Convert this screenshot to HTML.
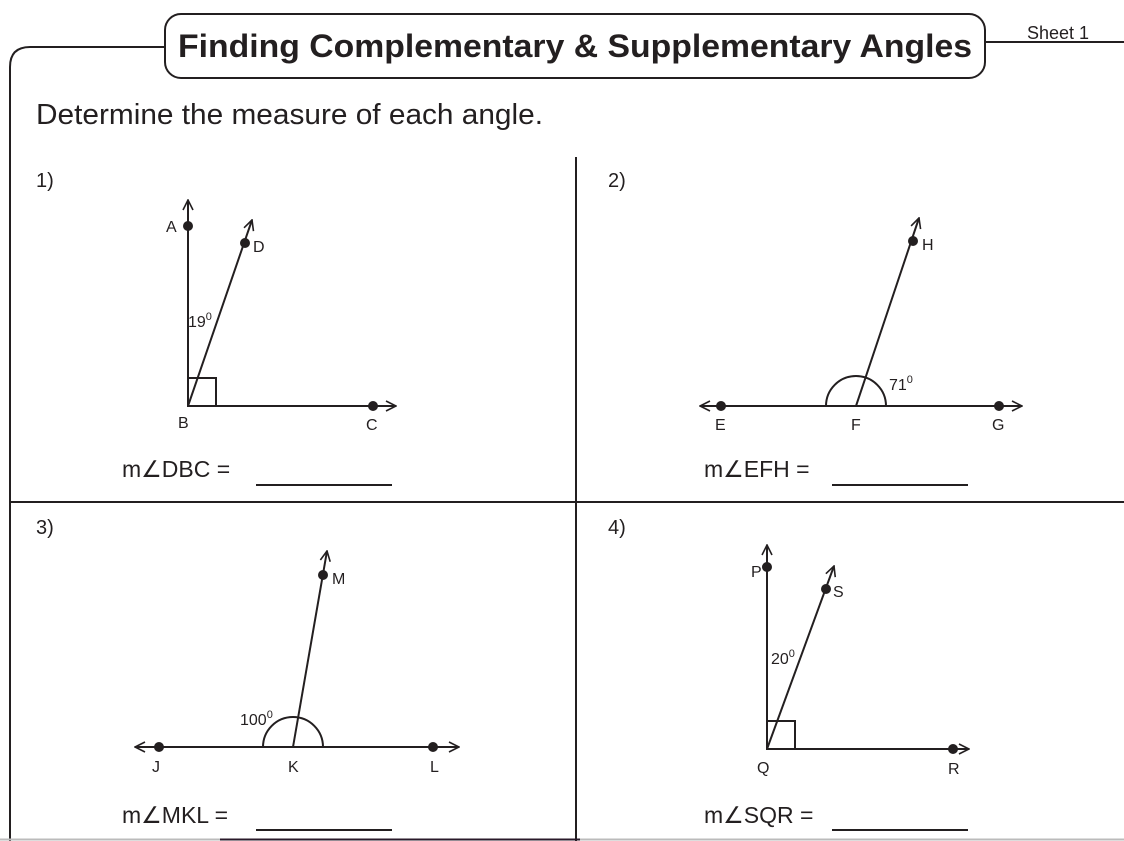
<!DOCTYPE html>
<html><head><meta charset="utf-8"><style>
html,body{margin:0;padding:0;background:#fff;}
svg{display:block;font-family:"Liberation Sans",sans-serif;}
</style></head><body>
<svg width="1124" height="841" viewBox="0 0 1124 841" xmlns="http://www.w3.org/2000/svg">
<defs>
<marker id="ar" viewBox="0 0 12 12" refX="11" refY="6" markerWidth="12" markerHeight="12" markerUnits="userSpaceOnUse" orient="auto"><path d="M1,1 L11,6 L1,11" fill="none" stroke="#231f20" stroke-width="1.6"/></marker>
</defs>
<g fill="none" stroke="#231f20" stroke-width="2">
<path d="M10,841 L10,67 Q10,47 30,47 L165,47"/>
<rect x="165" y="14" width="820" height="64" rx="16"/>
<path d="M985,42 L1124,42"/>
<path d="M576,157 L576,841"/>
<path d="M10,502 L1124,502"/>
</g>
<path d="M0,839.5 L1124,839.5" stroke="#bbb" stroke-width="2"/>
<path d="M220,839.5 L580,839.5" stroke="#2a1a2a" stroke-width="2"/>
<text x="178" y="57" textLength="794" lengthAdjust="spacingAndGlyphs" font-size="32" font-weight="bold" fill="#231f20">Finding Complementary &amp; Supplementary Angles</text>
<text x="1027" y="39" font-size="18" fill="#231f20">Sheet 1</text>
<text x="36" y="124" textLength="507" lengthAdjust="spacingAndGlyphs" font-size="29" fill="#231f20">Determine the measure of each angle.</text>
<g font-size="20" fill="#231f20">
<text x="36" y="187">1)</text><text x="608" y="187">2)</text>
<text x="36" y="534">3)</text><text x="608" y="534">4)</text>
</g>
<g stroke="#231f20" stroke-width="2" fill="none" marker-end="url(#ar)">
<path d="M188,406 L188,200"/><path d="M188,406 L252,220"/><path d="M188,406 L396,406"/>
<path d="M856,406 L700,406"/><path d="M856,406 L1022,406"/><path d="M856,406 L919,218"/>
<path d="M293,747 L135,747"/><path d="M293,747 L459,747"/><path d="M293,747 L327,551"/>
<path d="M767,749 L767,545"/><path d="M767,749 L834,566"/><path d="M767,749 L969,749"/>
</g>
<g stroke="#231f20" stroke-width="2" fill="none">
<rect x="188" y="378" width="28" height="28"/>
<rect x="767" y="721" width="28" height="28"/>
<path d="M826,406 A30,30 0 0 1 886,406"/>
<path d="M263,747 A30,30 0 0 1 323,747"/>
</g>
<g fill="#231f20">
<circle cx="188" cy="226" r="5"/><circle cx="245" cy="243" r="5"/><circle cx="373" cy="406" r="5"/>
<circle cx="721" cy="406" r="5"/><circle cx="999" cy="406" r="5"/><circle cx="913" cy="241" r="5"/>
<circle cx="159" cy="747" r="5"/><circle cx="433" cy="747" r="5"/><circle cx="323" cy="575" r="5"/>
<circle cx="767" cy="567" r="5"/><circle cx="826" cy="589" r="5"/><circle cx="953" cy="749" r="5"/>
</g>
<g font-size="16" fill="#231f20">
<text x="166" y="232">A</text><text x="253" y="252">D</text><text x="178" y="428">B</text><text x="366" y="430">C</text>
<text x="188" y="327">19<tspan dy="-7" font-size="11">0</tspan></text>
<text x="715" y="430">E</text><text x="851" y="430">F</text><text x="992" y="430">G</text><text x="922" y="250">H</text>
<text x="889" y="390">71<tspan dy="-7" font-size="11">0</tspan></text>
<text x="152" y="772">J</text><text x="288" y="772">K</text><text x="430" y="772">L</text><text x="332" y="584">M</text>
<text x="240" y="725">100<tspan dy="-7" font-size="11">0</tspan></text>
<text x="751" y="577">P</text><text x="833" y="597">S</text><text x="757" y="773">Q</text><text x="948" y="774">R</text>
<text x="771" y="664">20<tspan dy="-7" font-size="11">0</tspan></text>
</g>
<g font-size="23" fill="#231f20">
<text x="122" y="477">m∠DBC =</text>
<text x="704" y="477">m∠EFH =</text>
<text x="122" y="823">m∠MKL =</text>
<text x="704" y="823">m∠SQR =</text>
</g>
<g stroke="#231f20" stroke-width="2">
<path d="M256,485 L392,485"/><path d="M832,485 L968,485"/>
<path d="M256,830 L392,830"/><path d="M832,830 L968,830"/>
</g>
</svg>
</body></html>
